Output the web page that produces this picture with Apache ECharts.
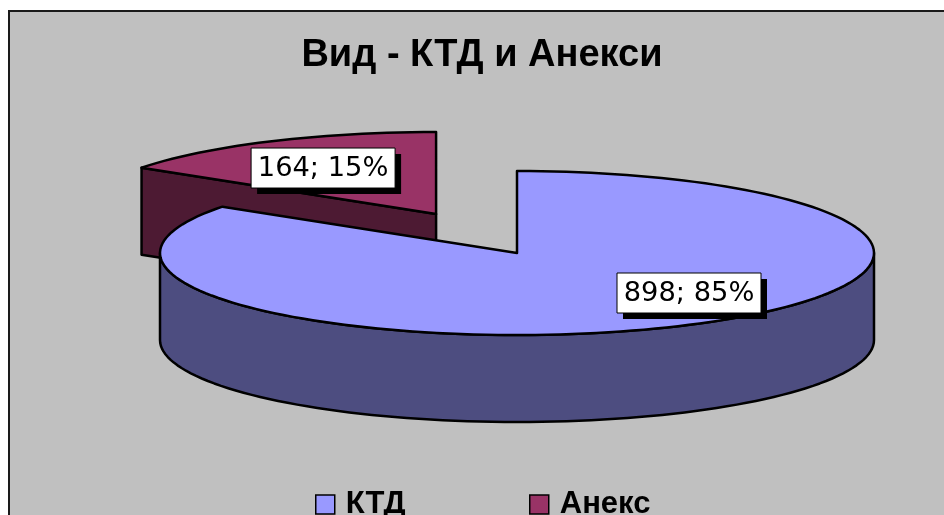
<!DOCTYPE html>
<html><head><meta charset="utf-8">
<script src="https://cdn.jsdelivr.net/npm/echarts@6/dist/echarts.min.js"></script>
<style>html,body{margin:0;padding:0;background:#fff}#c{width:944px;height:515px}</style>
</head><body><div id="c"></div>
<script>
const titleText = 'Вид - КТД и Анекси';
const categories = ['КТД', 'Анекс'];
const values = [898, 164];

// styles
const topColors = ['#9999FF', '#993366'];
const sideColors = ['#4D4D80', '#4D1A33'];
const exploded = [0, 0.486];
const G = {cx: 517, cy: 253, rx: 357, ry: 82, depth: 87, explodeYRatio: 0.254};
const labelOffsets = [[172, 40], [-113, -46]];
const legendLefts = [315, 529];

const total = values.reduce((a, b) => a + b, 0);
const rad = d => d * Math.PI / 180;

function sliceAngles(idx, v) {
  let before = 0;
  for (let k = 0; k < idx; k++) before += values[k];
  return [before / total * 360, (before + v) / total * 360];
}

function renderItem(params, api) {
  const idx = api.value(0);
  const v = api.value(1);
  const [a0, a1] = sliceAngles(idx, v);
  const mid = (a0 + a1) / 2;
  const e = exploded[idx];
  const cx = G.cx + e * G.rx * Math.sin(rad(mid));
  const cy = G.cy - e * G.rx * G.explodeYRatio * Math.cos(rad(mid));
  const P = (t, dz) => [cx + G.rx * Math.sin(rad(t)), cy - G.ry * Math.cos(rad(t)) + (dz || 0)];
  const arc = (from, to, dz) => {
    const n = Math.max(2, Math.ceil(Math.abs(to - from) / 2));
    const pts = [];
    for (let j = 0; j <= n; j++) pts.push(P(from + (to - from) * j / n, dz));
    return pts;
  };
  const line = {stroke: '#000', lineWidth: 2.5, lineJoin: 'round'};
  const children = [];
  const lo = Math.max(a0, 90), hi = Math.min(a1, 270);
  if (hi > lo) {
    children.push({type: 'polygon', shape: {points: arc(lo, hi, 0).concat(arc(hi, lo, G.depth))},
      style: Object.assign({fill: sideColors[idx]}, line)});
  }
  const face = t => ({type: 'polygon',
    shape: {points: [[cx, cy], P(t, 0), P(t, G.depth), [cx, cy + G.depth]]},
    style: Object.assign({fill: sideColors[idx]}, line)});
  if (Math.cos(rad(a0 - 90)) < -1e-6) children.push(face(a0));
  if (Math.cos(rad(a1 + 90)) < -1e-6) children.push(face(a1));
  children.push({type: 'polygon', shape: {points: [[cx, cy]].concat(arc(a0, a1, 0))},
    style: Object.assign({fill: topColors[idx]}, line)});

  const pct = Math.round(v / total * 100);
  const lx = cx + labelOffsets[idx][0], ly = cy + labelOffsets[idx][1];
  const bw = 144, bh = 40;
  children.push({type: 'rect', shape: {x: lx - bw / 2 + 6, y: ly - bh / 2 + 6, width: bw, height: bh}, style: {fill: '#000'}});
  children.push({type: 'rect', shape: {x: lx - bw / 2, y: ly - bh / 2, width: bw, height: bh}, style: {fill: '#fff', stroke: '#000', lineWidth: 1}});
  children.push({type: 'text', x: lx, y: ly + 1, scaleX: 1.05,
    style: {text: v + '; ' + pct + '%', font: '26px "DejaVu Sans"', fill: '#000', align: 'center', verticalAlign: 'middle'}});
  return {type: 'group', children};
}

const chart = echarts.init(document.getElementById('c'));
chart.setOption({
  animation: false,
  backgroundColor: '#fff',
  graphic: [{type: 'rect', z: 0, silent: true, shape: {x: 9, y: 11, width: 950, height: 520},
    style: {fill: '#C0C0C0', stroke: '#1a1a1a', lineWidth: 2}}],
  title: {text: titleText, left: 477, textAlign: 'center', top: 32,
    textStyle: {fontFamily: 'Liberation Sans', fontWeight: 'bold', fontSize: 38, color: '#000'}},
  legend: categories.map((name, i) => ({
    data: [name], left: legendLefts[i], top: 489, padding: 0, icon: 'rect', itemWidth: 19, itemHeight: 19,
    selectedMode: false,
    itemStyle: {borderColor: '#000', borderWidth: 1.5},
    textStyle: {fontSize: 31, fontWeight: 'bold', fontFamily: 'Liberation Sans', color: '#000', padding: [0, 0, 0, 6]}
  })),
  series: categories.map((name, i) => {
    const [a0, a1] = sliceAngles(i, values[i]);
    const front = -Math.cos(rad((a0 + a1) / 2));
    return {type: 'custom', name, coordinateSystem: 'none', renderItem, silent: true,
      z: front > 0 ? 3 : 2,
      itemStyle: {color: topColors[i]},
      data: [[i, values[i]]]};
  })
});
</script></body></html>
